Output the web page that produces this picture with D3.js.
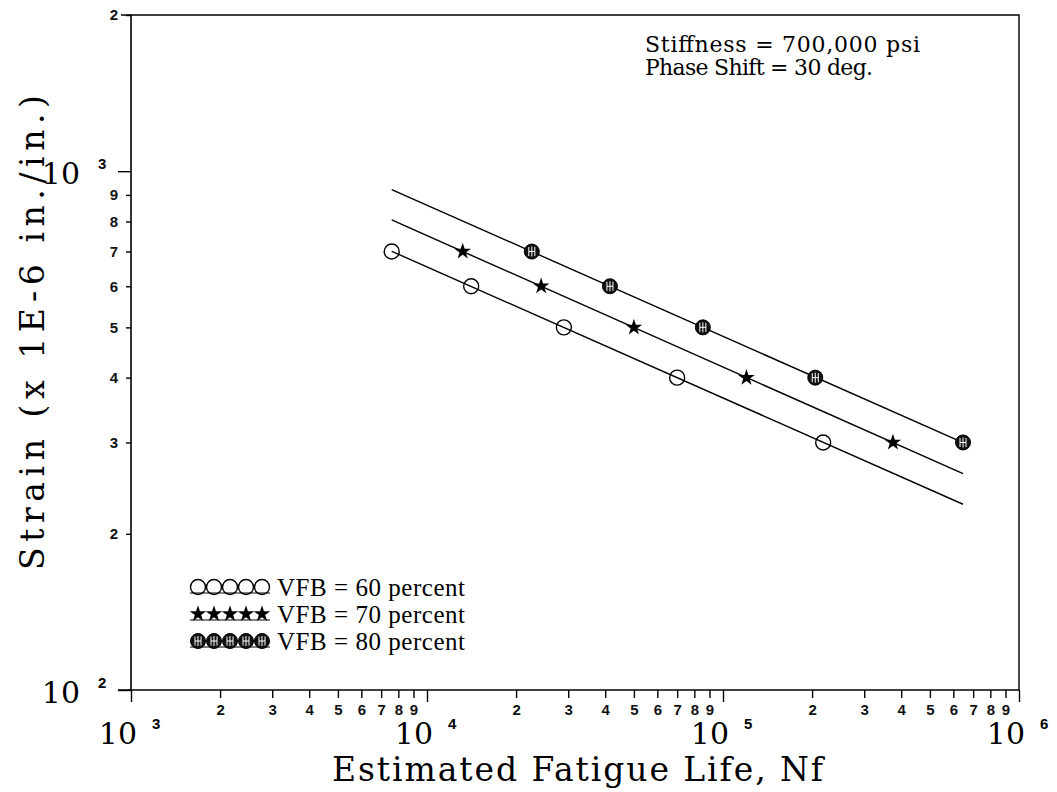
<!DOCTYPE html>
<html>
<head>
<meta charset="utf-8">
<script src="https://cdn.jsdelivr.net/npm/d3@7"></script>
<style>
  body { margin: 0; background: #fff; }
  svg { display: block; }
</style>
</head>
<body>
<div id="chart"></div>
<script>
// strain levels (x 1E-6 in./in.) tested for each mix
const strainLevels = [700, 600, 500, 400, 300];
// estimated fatigue life
const vfb60Life = [7600, 14100, 29000, 70000, 218000];
const vfb70Life = [13200, 24300, 50000, 120000, 375000];
const vfb80Life = [22600, 41500, 85500, 205000, 647000];
const seriesNames = ["VFB = 60 percent", "VFB = 70 percent", "VFB = 80 percent"];
const seriesKinds = ["open", "star", "hatched"];

const xMajor = [1e3, 1e4, 1e5, 1e6];
const yMajor = [1e2, 1e3];
const xMinor = [1e3, 1e4, 1e5].flatMap(d => [2, 3, 4, 5, 6, 7, 8, 9].map(k => k * d));
const yMinor = [200, 300, 400, 500, 600, 700, 800, 900, 2000];

const notes = ["Stiffness = 700,000 psi", "Phase Shift = 30 deg."];
const xTitle = "Estimated Fatigue Life, Nf";
const yTitle = "Strain (x 1E-6 in./in.)";

const W = 1057, H = 792;
const plot = { left: 131, right: 1019, top: 15, bottom: 690 };

const svg = d3.select("#chart").append("svg")
  .attr("width", W)
  .attr("height", H)
  .style("background", "#fff");

const x = d3.scaleLog().domain([1e3, 1e6]).range([plot.left, plot.right]);
const y = d3.scaleLog().domain([100, 2000]).range([plot.bottom, plot.top]);

const serif = "'DejaVu Serif', 'Liberation Serif', serif";
const tickFont = "'Liberation Sans', 'DejaVu Sans', sans-serif";

// frame: top and right edges
svg.append("path")
  .attr("d", `M${plot.left - 10},${plot.top}H${plot.right}V${plot.bottom}`)
  .attr("fill", "none").attr("stroke", "#000").attr("stroke-width", 1.4);

function styleAxis(g) {
  g.select(".domain").remove();
  g.selectAll("line").attr("stroke", "#000").attr("stroke-width", 1.4);
  g.selectAll("text")
    .attr("font-family", tickFont)
    .attr("font-weight", "bold")
    .attr("font-size", 15)
    .attr("fill", "#111");
}

// x axis
svg.append("line")
  .attr("x1", plot.left - 13).attr("x2", plot.right)
  .attr("y1", plot.bottom).attr("y2", plot.bottom)
  .attr("stroke", "#000").attr("stroke-width", 1.6);

svg.append("g")
  .attr("transform", `translate(0,${plot.bottom})`)
  .call(d3.axisBottom(x).tickValues(xMinor).tickSize(8).tickPadding(6)
    .tickFormat(d => Math.round(d / Math.pow(10, Math.floor(Math.log10(d) + 1e-9)))))
  .call(styleAxis);

svg.append("g")
  .attr("transform", `translate(0,${plot.bottom})`)
  .call(d3.axisBottom(x).tickValues(xMajor).tickSize(12).tickFormat(""))
  .call(styleAxis);

const xMajLab = svg.append("g").selectAll("g").data(xMajor).join("g")
  .attr("transform", d => `translate(${x(d)},0)`);
xMajLab.append("text")
  .attr("x", 6).attr("y", 744)
  .attr("text-anchor", "end")
  .attr("font-family", serif).attr("font-size", 30)
  .text("10");
xMajLab.append("text")
  .attr("x", 21).attr("y", 729)
  .attr("font-family", tickFont).attr("font-weight", "bold").attr("font-size", 15)
  .text(d => Math.round(Math.log10(d)));

// y axis
svg.append("line")
  .attr("x1", plot.left).attr("x2", plot.left)
  .attr("y1", plot.top).attr("y2", plot.bottom)
  .attr("stroke", "#000").attr("stroke-width", 1.6);

svg.append("g")
  .attr("transform", `translate(${plot.left},0)`)
  .call(d3.axisLeft(y).tickValues(yMinor).tickSize(5).tickPadding(8)
    .tickFormat(d => Math.round(d / Math.pow(10, Math.floor(Math.log10(d) + 1e-9)))))
  .call(styleAxis);

svg.append("g")
  .attr("transform", `translate(${plot.left},0)`)
  .call(d3.axisLeft(y).tickValues(yMajor).tickSize(13).tickFormat(""))
  .call(styleAxis);

const yMajLab = svg.append("g").selectAll("g").data(yMajor).join("g")
  .attr("transform", d => `translate(0,${y(d)})`);
yMajLab.append("text")
  .attr("x", 80).attr("y", 13)
  .attr("text-anchor", "end")
  .attr("font-family", serif).attr("font-size", 30)
  .text("10");
yMajLab.append("text")
  .attr("x", 98).attr("y", -2)
  .attr("font-family", tickFont).attr("font-weight", "bold").attr("font-size", 15)
  .text(d => Math.round(Math.log10(d)));

// axis titles
svg.append("text")
  .attr("x", 332).attr("y", 781)
  .attr("font-family", serif).attr("font-size", 33)
  .attr("textLength", 491).attr("lengthAdjust", "spacing")
  .text(xTitle);

svg.append("text")
  .attr("transform", "translate(44,570) rotate(-90)")
  .attr("font-family", serif).attr("font-size", 33)
  .attr("textLength", 475).attr("lengthAdjust", "spacing")
  .text(yTitle);

// annotation
svg.append("g").selectAll("text").data(notes).join("text")
  .attr("x", 645)
  .attr("y", (d, i) => 52 + i * 23)
  .attr("font-family", serif).attr("font-size", 22)
  .attr("textLength", (d, i) => i === 0 ? 275 : 228)
  .attr("lengthAdjust", "spacing")
  .text(d => d);

// series and least-squares fit lines in log-log space
const lifeSets = [vfb60Life, vfb70Life, vfb80Life];
const series = lifeSets.map((life, i) => ({
  name: seriesNames[i],
  kind: seriesKinds[i],
  points: life.map((n, j) => ({ n, s: strainLevels[j] }))
}));
const lineRange = d3.extent(lifeSets.flat());

function fit(points) {
  const lx = points.map(p => Math.log10(p.n));
  const ly = points.map(p => Math.log10(p.s));
  const mx = d3.mean(lx), my = d3.mean(ly);
  const b = d3.sum(lx, (v, i) => (v - mx) * (ly[i] - my)) / d3.sum(lx, v => (v - mx) ** 2);
  const a = my - b * mx;
  return n => Math.pow(10, a + b * Math.log10(n));
}

const line = d3.line().x(d => x(d[0])).y(d => y(d[1]));
series.forEach(s => {
  const f = fit(s.points);
  svg.append("path")
    .datum(lineRange.map(n => [n, f(n)]))
    .attr("d", line)
    .attr("fill", "none")
    .attr("stroke", "#000")
    .attr("stroke-width", 1.4);
});

const star = d3.symbol().type(d3.symbolStar).size(85);

function drawMarker(g, kind) {
  if (kind === "open") {
    g.append("circle").attr("r", 7.5)
      .attr("fill", "none").attr("stroke", "#000").attr("stroke-width", 1.4);
  } else if (kind === "star") {
    g.append("path").attr("d", star).attr("fill", "#000");
  } else {
    g.append("circle").attr("r", 7.5)
      .attr("fill", "#111").attr("stroke", "#000").attr("stroke-width", 1);
    g.append("path")
      .attr("d", "M-3,-4.5V4.5M0,-5V5M3,-4.5V4.5M-3,0H3")
      .attr("stroke", "#fff").attr("stroke-width", 1);
  }
}

series.forEach(s => {
  svg.append("g").selectAll("g").data(s.points).join("g")
    .attr("transform", d => `translate(${x(d.n)},${y(d.s)})`)
    .each(function () { drawMarker(d3.select(this), s.kind); });
});

// legend
const legend = svg.append("g");
const legendRows = legend.selectAll("g").data(series).join("g")
  .attr("transform", (d, i) => `translate(0,${587 + i * 27})`);
legendRows.append("line")
  .attr("x1", 190).attr("x2", 270).attr("y1", 6).attr("y2", 6)
  .attr("stroke", "#000").attr("stroke-width", 1.2);
legendRows.each(function (s) {
  const row = d3.select(this);
  d3.range(5).forEach(k => {
    const g = row.append("g").attr("transform", `translate(${198 + k * 16},0)`);
    drawMarker(g, s.kind);
  });
});
legendRows.append("text")
  .attr("x", 277).attr("y", 0)
  .attr("dy", "0.35em")
  .attr("font-family", "'Liberation Serif', 'Times New Roman', serif")
  .attr("font-size", 25)
  .attr("textLength", 188).attr("lengthAdjust", "spacing")
  .text(d => d.name);
</script>
</body>
</html>
